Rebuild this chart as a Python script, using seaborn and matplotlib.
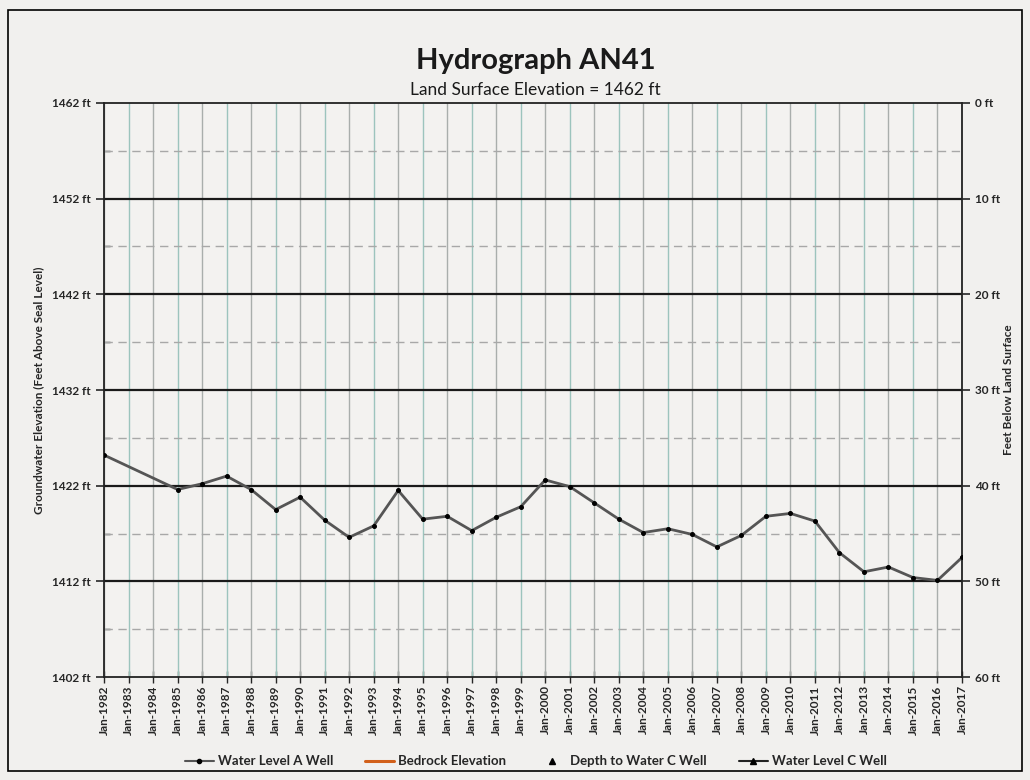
import numpy as np
import pandas as pd
import seaborn as sns
import matplotlib.pyplot as plt
from matplotlib.lines import Line2D
from matplotlib.patches import Rectangle

# data (January of each year)
years = [1982, 1985, 1986, 1987, 1988, 1989, 1990, 1991, 1992, 1993, 1994,
         1995, 1996, 1997, 1998, 1999, 2000, 2001, 2002, 2003, 2004, 2005,
         2006, 2007, 2008, 2009, 2010, 2011, 2012, 2013, 2014, 2015, 2016, 2017]
water_level_a = [1425.2, 1421.6, 1422.2, 1423.0, 1421.6, 1419.5, 1420.8, 1418.4,
                 1416.6, 1417.8, 1421.5, 1418.5, 1418.8, 1417.3, 1418.7, 1419.8,
                 1422.6, 1421.9, 1420.2, 1418.5, 1417.1, 1417.5, 1416.9, 1415.6,
                 1416.8, 1418.8, 1419.1, 1418.3, 1415.0, 1413.0, 1413.5, 1412.4,
                 1412.1, 1414.5]
land_surface = 1462
y_major = [1402, 1412, 1422, 1432, 1442, 1452, 1462]
tick_years = list(range(1982, 2018))

sns.set_theme(style='white')
plt.rcParams['font.family'] = ['Lato', 'DejaVu Sans']

df = pd.DataFrame({'Date': pd.to_datetime([f'{y}-01-01' for y in years]),
                   'Water Level A Well': water_level_a})

fig = plt.figure(figsize=(10.3, 7.8), dpi=100)
fig.patch.set_facecolor('#f1f0ee')
fig.patches.append(Rectangle((0.008, 0.012), 0.984, 0.975, transform=fig.transFigure,
                             fill=False, edgecolor='black', linewidth=1.2))
ax = fig.add_axes([0.101, 0.132, 0.833, 0.736])
ax.set_facecolor('#f3f2f0')

# vertical year grid
tick_dates = pd.to_datetime([f'{y}-01-01' for y in tick_years])
for i, d in enumerate(tick_dates):
    ax.axvline(d, color='#9cc4bd' if i % 2 else '#a9aeac', linewidth=1.0, zorder=1)
# horizontal grid
for v in y_major[1:-1]:
    ax.axhline(v, color='#1a1a1a', linewidth=1.6, zorder=2)
for v in np.array(y_major[:-1]) + 5:
    ax.axhline(v, color='#a8a8a8', linewidth=1.0, linestyle=(0, (6, 4)), zorder=2)

sns.lineplot(data=df, x='Date', y='Water Level A Well', ax=ax, color='#555555',
             linewidth=2.0, marker='o', markersize=2.8, markerfacecolor='black',
             markeredgecolor='black', zorder=5)

ax.set_xlim(tick_dates[0], tick_dates[-1])
ax.set_ylim(y_major[0], y_major[-1])
ax.set_xticks(tick_dates)
ax.set_xticklabels([f'Jan-{y}' for y in tick_years], rotation=90, fontsize=8.5,
                   fontweight='bold')
ax.set_yticks(y_major)
ax.set_yticklabels([f'{v} ft' for v in y_major], fontsize=8.5, fontweight='bold')
ax.set_yticks(np.array(y_major[:-1]) + 5, minor=True)
ax.tick_params(axis='x', direction='inout', length=8, width=1, pad=2, bottom=True)
ax.tick_params(axis='y', which='major', direction='out', length=6, width=1.2, left=True)
ax.tick_params(axis='y', which='minor', direction='in', length=4, width=1, left=True)
ax.set_xlabel('')
ax.set_ylabel('Groundwater Elevation (Feet Above Seal Level)', fontsize=8.5,
              fontweight='bold', labelpad=6)
for s in ax.spines.values():
    s.set_color('#222222')
    s.set_linewidth(1.3)

ax2 = ax.twinx()
ax2.set_ylim(land_surface - y_major[0], land_surface - y_major[-1])
depth_ticks = [land_surface - v for v in y_major]
ax2.set_yticks(depth_ticks)
ax2.set_yticklabels([f'{v} ft' for v in depth_ticks], fontsize=8.5, fontweight='bold')
ax2.tick_params(axis='y', direction='out', length=6, width=1.2, right=True)
ax2.set_ylabel('Feet Below Land Surface', fontsize=8.5, fontweight='bold', labelpad=2)
for s in ax2.spines.values():
    s.set_visible(False)

fig.text(0.52, 0.922, 'Hydrograph AN41', ha='center', va='center', fontsize=21,
         fontweight='bold', color='#1a1a1a')
fig.text(0.52, 0.884, f'Land Surface Elevation = {land_surface} ft', ha='center',
         va='center', fontsize=12.5, color='#1a1a1a')

handles = [
    Line2D([], [], color='#555555', linewidth=1.5, marker='o', markersize=3,
           markerfacecolor='black', markeredgecolor='black'),
    Line2D([], [], color='#d2601a', linewidth=2.2),
    Line2D([], [], color='none', marker='^', markersize=5, markerfacecolor='black',
           markeredgecolor='black'),
    Line2D([], [], color='#222222', linewidth=1.5, marker='^', markersize=5,
           markerfacecolor='black', markeredgecolor='black'),
]
labels = ['Water Level A Well', 'Bedrock Elevation', 'Depth to Water C Well',
          'Water Level C Well']
fig.legend(handles, labels, loc='center', bbox_to_anchor=(0.52, 0.024), ncol=4,
           frameon=False, handlelength=2.2, columnspacing=2.4,
           handletextpad=0.3, prop={'weight': 'bold', 'size': 9.5})

fig.savefig('out.png', dpi=100, facecolor=fig.get_facecolor())
